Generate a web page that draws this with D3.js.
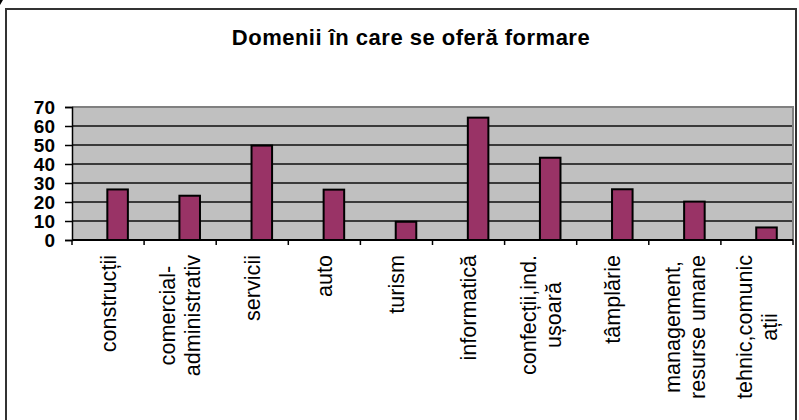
<!DOCTYPE html>
<html>
<head>
<meta charset="utf-8">
<script src="https://cdn.jsdelivr.net/npm/d3@7"></script>
<style>
  html, body { margin: 0; padding: 0; background: #fff; }
  svg { display: block; }
</style>
</head>
<body>
<div id="chart"></div>
<script>
// date
const title = "Domenii în care se oferă formare";
const categories = [
    "construcții",
    "comercial-\nadministrativ",
    "servicii",
    "auto",
    "turism",
    "informatică",
    "confecții,ind.\nușoară",
    "tâmplărie",
    "management,\nresurse umane",
    "tehnic,comunic\nații"
];
const values = [26.6, 23.3, 49.7, 26.5, 9.6, 64.4, 43.3, 26.7, 20.2, 6.6];
const yTicks = [0, 10, 20, 30, 40, 50, 60, 70];

(function () {
    const width = 799;
    const height = 420;
    const plot = { left: 72, right: 793, top: 107, bottom: 240 };

    const svg = d3.select("#chart")
        .append("svg")
        .attr("width", width)
        .attr("height", height)
        .attr("viewBox", `0 0 ${width} ${height}`);

    svg.append("rect")
        .attr("width", width).attr("height", height)
        .attr("fill", "#fff");

    // mic semn in colt
    svg.append("path")
        .attr("d", "M0,5 L3,0 L0,0 Z")
        .attr("fill", "#000");

    // chenarul exterior
    svg.append("rect")
        .attr("x", 6).attr("y", 9)
        .attr("width", 790).attr("height", 430)
        .attr("fill", "none")
        .attr("stroke", "#333")
        .attr("stroke-width", 2);

    svg.append("text")
        .attr("x", 411)
        .attr("y", 45)
        .attr("text-anchor", "middle")
        .attr("font-family", "Liberation Sans, Arial, sans-serif")
        .attr("font-weight", "bold")
        .attr("font-size", 22)
        .attr("letter-spacing", 0.5)
        .text(title);

    const x = d3.scaleBand()
        .domain(categories)
        .range([plot.left, plot.right])
        .padding(0);

    const y = d3.scaleLinear()
        .domain([0, 70])
        .range([plot.bottom, plot.top]);

    // fundal gri
    svg.append("rect")
        .attr("x", plot.left).attr("y", plot.top)
        .attr("width", plot.right - plot.left)
        .attr("height", plot.bottom - plot.top)
        .attr("fill", "#c0c0c0");

    // linii de grila
    svg.append("g")
        .selectAll("line")
        .data(yTicks.filter(d => d > 0 && d < 70))
        .enter().append("line")
        .attr("x1", plot.left).attr("x2", plot.right)
        .attr("y1", d => y(d)).attr("y2", d => y(d))
        .attr("stroke", "#3a3a3a")
        .attr("stroke-width", 1.8);

    // bordura sus si dreapta
    svg.append("path")
        .attr("d", `M${plot.left},${plot.top} H${plot.right} V${plot.bottom}`)
        .attr("fill", "none")
        .attr("stroke", "#808080")
        .attr("stroke-width", 2);

    // bare
    const bw = x.bandwidth();
    svg.append("g")
        .selectAll("rect")
        .data(values)
        .enter().append("rect")
        .attr("x", (d, i) => x(categories[i]) + bw * 0.49)
        .attr("y", d => y(d))
        .attr("width", bw * 0.285)
        .attr("height", d => y(0) - y(d))
        .attr("fill", "#993366")
        .attr("stroke", "#000")
        .attr("stroke-width", 2);

    // axa Y
    const yAxis = svg.append("g")
        .attr("transform", `translate(${plot.left},0)`)
        .call(d3.axisLeft(y).tickValues(yTicks).tickSize(7).tickPadding(10));
    yAxis.select(".domain").attr("stroke", "#000").attr("stroke-width", 1.5);
    yAxis.selectAll(".tick line").attr("stroke", "#000").attr("stroke-width", 1.5);
    yAxis.selectAll(".tick text")
        .attr("font-family", "Liberation Sans, Arial, sans-serif")
        .attr("font-weight", "bold")
        .attr("font-size", 19)
        .attr("fill", "#000");

    // axa X (linia si tick-urile la limitele categoriilor)
    const xg = svg.append("g");
    xg.append("line")
        .attr("x1", plot.left).attr("x2", plot.right)
        .attr("y1", plot.bottom).attr("y2", plot.bottom)
        .attr("stroke", "#000").attr("stroke-width", 2);
    const bounds = categories.map(c => x(c)).concat([plot.right]);
    xg.selectAll(".xt")
        .data(bounds)
        .enter().append("line")
        .attr("class", "xt")
        .attr("x1", d => d).attr("x2", d => d)
        .attr("y1", plot.bottom).attr("y2", plot.bottom + 5)
        .attr("stroke", "#000").attr("stroke-width", 1.5);

    // etichete rotite
    const labelTop = 255;
    const lbl = xg.selectAll(".xl")
        .data(categories)
        .enter().append("text")
        .attr("class", "xl")
        .attr("text-anchor", "middle")
        .attr("font-family", "Liberation Sans, Arial, sans-serif")
        .attr("font-size", 21.6)
        .attr("fill", "#000");

    lbl.each(function (c) {
        const t = d3.select(this);
        const lines = c.split("\n");
        const n = lines.length;
        lines.forEach((s, i) => {
            t.append("tspan")
                .attr("x", 0)
                .attr("y", 0)
                .attr("dy", ((i - (n - 1) / 2) * 1.15 + 0.35) + "em")
                .text(s);
        });
        let maxLen = 0;
        t.selectAll("tspan").each(function () {
            maxLen = Math.max(maxLen, this.getComputedTextLength());
        });
        const cx = x(c) + bw / 2;
        t.attr("transform", `translate(${cx},${labelTop + maxLen / 2}) rotate(-90)`);
    });
})();
</script>
</body>
</html>
